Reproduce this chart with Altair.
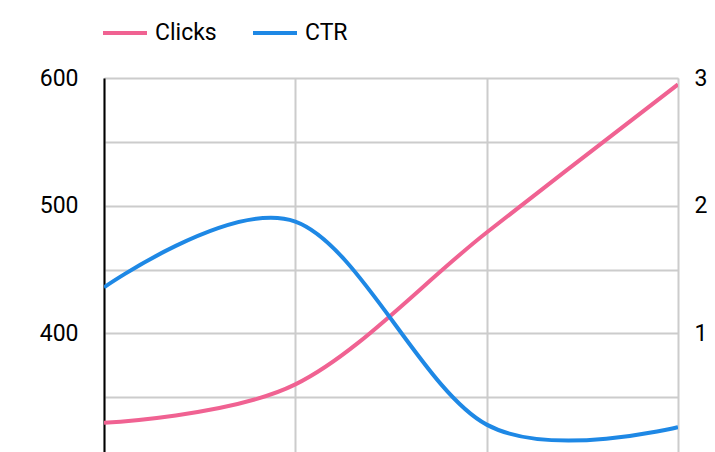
import altair as alt
import pandas as pd

# Data
period = [0, 1, 2, 3]
clicks = [330, 360, 479, 595]
ctr = [1.36, 1.875, 0.285, 0.265]
series = ["Clicks", "CTR"]
colors = ["#f06292", "#1e88e5"]

df = pd.DataFrame({
    "period": period * 2,
    "series": [series[0]] * len(period) + [series[1]] * len(period),
    "value": clicks + ctr,
})

FONT = "Roboto"
FS = 23
GRID = "#cccccc"

x_enc = alt.X(
    "period:Q",
    scale=alt.Scale(domain=[0, 3], nice=False, zero=False),
    axis=alt.Axis(values=period, grid=True, labels=False, ticks=False, domain=False,
                  title=None, gridColor=GRID, gridWidth=2),
)

color_enc = alt.Color(
    "series:N",
    scale=alt.Scale(domain=series, range=colors),
    legend=alt.Legend(orient="none", legendX=-3, legendY=-69, direction="horizontal",
                      title=None, symbolType="stroke", symbolSize=1936, symbolStrokeWidth=4,
                      labelFontSize=FS, labelFont=FONT, labelColor="#000000",
                      labelOffset=6, columnPadding=28),
)

base = alt.Chart(df)

left = base.transform_filter(alt.datum.series == "Clicks").mark_line(
    interpolate="cardinal", strokeWidth=4, clip=True
).encode(
    x=x_enc,
    y=alt.Y("value:Q",
            scale=alt.Scale(domain=[300, 600], nice=False, zero=False),
            axis=alt.Axis(values=list(range(300, 601, 50)),
                          labelExpr="datum.value % 100 == 0 ? datum.label : ''",
                          grid=True, gridColor=GRID, gridWidth=2, ticks=False,
                          domainColor="#000000", domainWidth=2, labelPadding=26,
                          labelFontSize=FS, labelFont=FONT, labelColor="#000000",
                          title=None)),
    color=color_enc,
)

right = base.transform_filter(alt.datum.series == "CTR").mark_line(
    interpolate="cardinal", strokeWidth=4, clip=True
).encode(
    x=x_enc,
    y=alt.Y("value:Q",
            scale=alt.Scale(domain=[0, 3], nice=False, zero=False),
            axis=alt.Axis(orient="right", values=[0, 1, 2, 3], grid=False, ticks=False,
                          domain=False, labelPadding=16, labelFontSize=FS, labelFont=FONT,
                          labelColor="#000000", title=None, format="d")),
    color=color_enc,
)

chart = alt.layer(left, right).resolve_scale(y="independent").properties(
    width=574,
    height=383,
    autosize=alt.AutoSizeParams(type="none"),
    padding={"left": 96, "top": 70, "right": 29, "bottom": 20},
).configure_view(stroke=None).configure(background="white")

chart.save("out.html", embed_options={"renderer": "svg", "actions": False})
